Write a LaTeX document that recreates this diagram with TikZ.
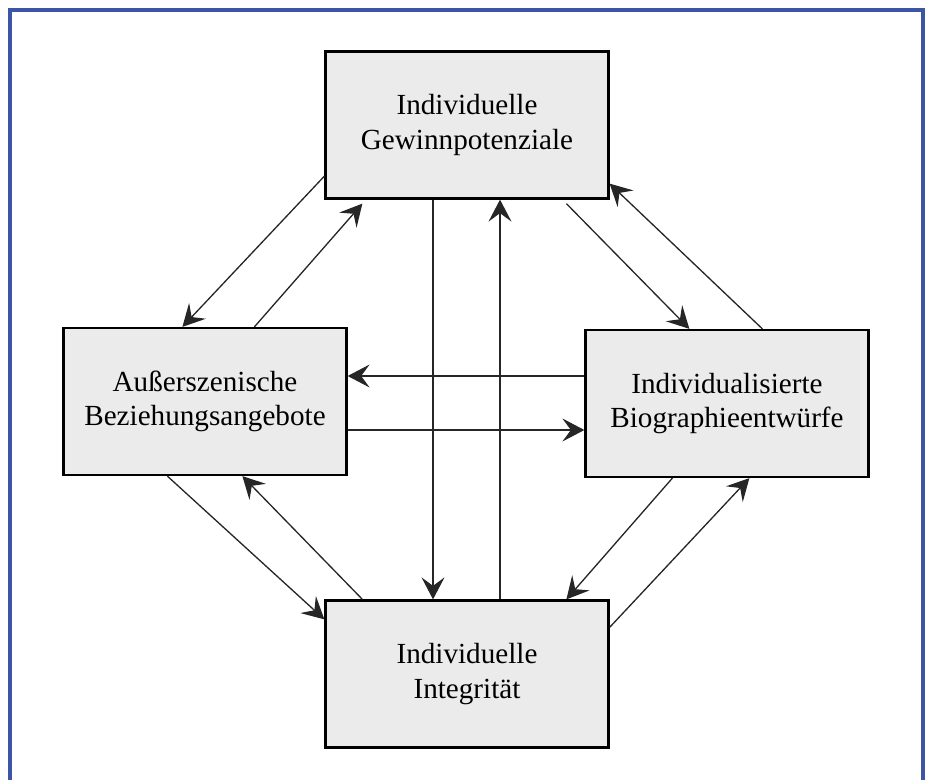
\documentclass[tikz,border=0pt]{standalone}
\usepackage{fontspec}
\setmainfont{Liberation Serif}
\usetikzlibrary{arrows.meta,calc}
\definecolor{framblue}{RGB}{62,84,164}
\definecolor{boxgray}{RGB}{235,235,235}

\begin{document}
\begin{tikzpicture}[x=0.02cm,y=-0.02cm,
            box/.style={draw=black,fill=boxgray,line width=1.3pt,minimum width=5.66cm,minimum height=2.94cm,align=center,inner sep=0pt,font=\fontsize{16.6}{19.5}\selectfont},
            arr/.style={draw=black!85,line width=0.75pt,-{Stealth[length=0.44cm,width=0.46cm,inset=0.17cm]}}]
            \useasboundingbox (0,0) rectangle (925,780);
            \draw [framblue,line width=1.8pt] (10,780) -- (10,10) -- (923,10) -- (923,780);
            \node [box] (gp) at (467,125) {Individuelle\\Gewinnpotenziale};
            \node [box] (ab) at (205,401.5) {Außerszenische\\Beziehungsangebote};
            \node [box] (ib) at (727,403.5) {Individualisierte\\Biographieentwürfe};
            \node [box] (ii) at (467,674) {Individuelle\\Integrität};
            \draw [arr] ($(gp.south west)+(0,-23.5)$) -- ($(ab.north west)+(120,0)$);
            \draw [arr] ($(ab.north west)+(192,0)$) -- ($(gp.south west)+(38,4)$);
            \draw [arr] ($(gp.south west)+(242,4)$) -- ($(ib.north west)+(105,0)$);
            \draw [arr] ($(ib.north west)+(178,0)$) -- ($(gp.south east)+(0,-16)$);
            \draw [arr] ($(ab.south west)+(105,0)$) -- ($(ii.north west)+(0,20)$);
            \draw [arr] ($(ii.north west)+(38,0)$) -- ($(ab.south west)+(180,0)$);
            \draw [arr] ($(ib.south west)+(88,0)$) -- ($(ii.north west)+(242,0)$);
            \draw [arr] ($(ii.north east)+(0,28)$) -- ($(ib.south west)+(165,0)$);
            \coordinate (h1) at ($(ib.west)+(0,-27.5)$);
            \coordinate (h2) at ($(ab.east)+(0,28.5)$);
            \draw [arr] (h1) -- (h1 -| ab.east);
            \draw [arr] (h2) -- (h2 -| ib.west);
            \coordinate (v1) at ($(gp.south)+(-34,0)$);
            \coordinate (v2) at ($(ii.north)+(33,0)$);
            \draw [arr] (v1) -- (v1 |- ii.north);
            \draw [arr] (v2) -- (v2 |- gp.south);
\end{tikzpicture}
\end{document}
